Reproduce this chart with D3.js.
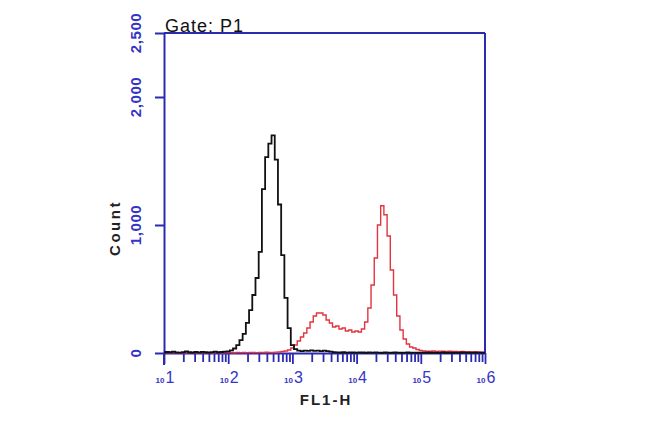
<!DOCTYPE html>
<html>
<head>
<meta charset="utf-8">
<script src="https://cdn.jsdelivr.net/npm/d3@7"></script>
<style>
  html, body { margin: 0; padding: 0; background: #fff; }
  svg { display: block; }
</style>
</head>
<body>
<svg id="chart" width="650" height="422"></svg>
<script>
// ---- data ----
const title = "Gate: P1";
const xLabel = "FL1-H";
const yLabel = "Count";
const yTicks = [0, 1000, 2000, 2500];
const yTickLabels = ["0", "1,000", "2,000", "2,500"];
const xDecades = [1, 2, 3, 4, 5, 6];
// histogram bin centres in log10(FL1-H), channels of 0.05 decade
const binLog = d3.range(0, 101).map(i => 1 + i * 0.05);
// isotype / control (black)
const blackCounts = [
  4,8,6,10,5,3,7,12,6,4,8,5,9,6,4,7,10,6,8,10,
  12,20,35,62,100,150,235,335,453,586,790,1280,1530,1635,1700,1510,1160,765,430,195,
  62,31,18,15,18,16,20,17,19,15,18,14,10,6,5,4,6,3,5,4,
  3,5,4,2,4,3,5,3,2,4,3,2,4,3,2,3,4,2,3,2,
  3,2,4,2,3,2,3,4,2,3,2,3,2,4,3,2,3,2,3,2,
  2
];
// stained sample (red)
const redCounts = [
  2,3,2,4,3,2,3,2,4,3,2,3,4,2,3,2,4,3,2,3,
  3,4,2,5,3,4,3,5,4,3,5,4,6,5,4,7,8,12,16,23,
  39,62,94,125,156,195,242,289,312,312,297,258,234,203,211,188,195,172,180,164,
  172,164,188,242,352,531,742,1000,1150,1080,914,648,453,289,180,109,70,47,39,27,
  20,16,15,14,16,13,15,14,12,14,13,12,11,12,10,11,9,10,8,6,
  5
];

// ---- layout ----
const svg = d3.select("#chart");
const pLeft = 164, pRight = 485, pTop = 33, pBottom = 353;
const axisColor = "#2b2bb0";
const labelColor = "#3535c4";

const x = d3.scaleLog().domain([10, 1e6]).range([pLeft, pRight]);
const y = d3.scaleLinear().domain([0, 2500]).range([pBottom, pTop]);

// frame (top & right)
svg.append("line").attr("x1", pLeft).attr("x2", pRight).attr("y1", pTop).attr("y2", pTop)
  .attr("stroke", axisColor).attr("stroke-width", 2);
svg.append("line").attr("x1", pRight).attr("x2", pRight).attr("y1", pTop).attr("y2", pBottom)
  .attr("stroke", axisColor).attr("stroke-width", 2);

// y axis
const yAxis = d3.axisLeft(y).tickValues(yTicks).tickFormat("").tickSizeInner(9).tickSizeOuter(0);
const gy = svg.append("g").attr("transform", `translate(${pLeft},0)`).call(yAxis);
gy.select(".domain").attr("stroke", axisColor).attr("stroke-width", 2);
gy.selectAll(".tick line").attr("stroke", axisColor).attr("stroke-width", 2);
// extend left axis downward below x axis
svg.append("line").attr("x1", pLeft).attr("x2", pLeft).attr("y1", pBottom).attr("y2", pBottom + 12)
  .attr("stroke", axisColor).attr("stroke-width", 2);

yTicks.forEach((t, i) => {
  svg.append("text")
    .attr("transform", `translate(${141},${y(t)}) rotate(-90)`)
    .attr("text-anchor", "middle")
    .attr("font-family", "Liberation Sans, Arial, sans-serif")
    .attr("font-size", 15).attr("font-weight", "bold")
    .attr("letter-spacing", 0.6)
    .attr("fill", labelColor)
    .text(yTickLabels[i]);
});

// x axis
const minorVals = [];
xDecades.slice(0, -1).forEach(d => {
  for (let k = 2; k <= 9; k++) minorVals.push(k * Math.pow(10, d));
});
const majorVals = xDecades.map(d => Math.pow(10, d));
const xAxis = d3.axisBottom(x).tickValues(minorVals.concat(majorVals)).tickFormat("")
  .tickSizeInner(9).tickSizeOuter(0);
const gx = svg.append("g").attr("transform", `translate(0,${pBottom})`).call(xAxis);
gx.select(".domain").attr("stroke", axisColor).attr("stroke-width", 2);
gx.selectAll(".tick line").attr("stroke", axisColor).attr("stroke-width", 1.8);
gx.selectAll(".tick").filter(d => majorVals.includes(d)).select("line").attr("y2", 11);

xDecades.forEach(d => {
  const t = svg.append("text")
    .attr("x", x(Math.pow(10, d)) + 1).attr("y", pBottom + 30)
    .attr("text-anchor", "middle")
    .attr("font-family", "Liberation Sans, Arial, sans-serif")
    .attr("fill", labelColor);
  t.append("tspan").attr("font-size", 8).attr("font-weight", "bold").text("10");
  t.append("tspan").attr("font-size", 16).attr("dx", 1).text(String(d));
});

// histograms
const line = d3.line()
  .x((d, i) => x(Math.pow(10, binLog[i])))
  .y(d => y(d))
  .curve(d3.curveStep);

svg.append("path").datum(redCounts).attr("d", line)
  .attr("fill", "none").attr("stroke", "#e2353f").attr("stroke-width", 1.4);
svg.append("path").datum(blackCounts).attr("d", line)
  .attr("fill", "none").attr("stroke", "#111").attr("stroke-width", 1.8);

// titles
svg.append("text").attr("x", 165).attr("y", 32)
  .attr("font-family", "Liberation Sans, Arial, sans-serif")
  .attr("font-size", 18).attr("letter-spacing", 1).attr("fill", "#111")
  .text(title);

svg.append("text").attr("x", 326).attr("y", 405)
  .attr("text-anchor", "middle")
  .attr("font-family", "Liberation Sans, Arial, sans-serif")
  .attr("font-size", 15).attr("font-weight", "bold").attr("letter-spacing", 2)
  .attr("fill", "#222")
  .text(xLabel);

svg.append("text")
  .attr("transform", "translate(120,228) rotate(-90)")
  .attr("text-anchor", "middle")
  .attr("font-family", "Liberation Sans, Arial, sans-serif")
  .attr("font-size", 15).attr("font-weight", "bold").attr("letter-spacing", 2.5)
  .attr("fill", "#222")
  .text(yLabel);
</script>
</body>
</html>
